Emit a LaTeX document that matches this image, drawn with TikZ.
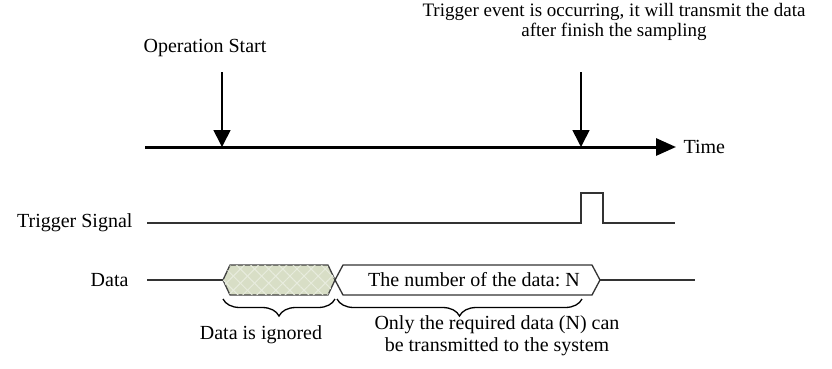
\documentclass[tikz,border=0pt]{standalone}
\usepackage{fontspec}
\setmainfont{Liberation Serif}
\usetikzlibrary{arrows.meta}
\usetikzlibrary{decorations.pathreplacing}
\usetikzlibrary{patterns.meta}
\definecolor{ignoregreen}{RGB}{216,222,198}
\definecolor{ignorehatch}{RGB}{232,236,222}

\begin{document}
\begin{tikzpicture}[x=1pt,y=-1pt,
  every node/.style={font=\fontsize{20}{22}\selectfont},
  wave/.style={line width=1.3pt,black!80},
  cue/.style={line width=1.6pt,-{Triangle[length=17pt,width=17pt]}},
  ubrace/.style={line width=1.3pt,decorate,decoration={brace,amplitude=17pt,mirror}},
  hatched/.style={draw=black!75,line width=1.3pt,fill=ignoregreen,
    postaction={pattern={Lines[angle=45,distance=10pt,line width=1pt]},pattern color=ignorehatch},
    postaction={pattern={Lines[angle=-45,distance=10pt,line width=1pt]},pattern color=ignorehatch}}]
  \useasboundingbox (0,0) rectangle (832,368);
  % time axis
  \coordinate (axisL) at (145,147);
  \coordinate (axisR) at (676,147);
  \draw [line width=3pt,-{Triangle[length=20pt,width=17pt]}] (axisL) -- (axisR);
  \node [anchor=west] (timelabel) at (680,147) {Time};
  % events
  \coordinate (opTop) at (222,72);
  \coordinate (opHit) at (222,147);
  \draw [cue] (opTop) -- (opHit);
  \node [anchor=base] (oplabel) at (205,52) {Operation Start};
  \coordinate (trTop) at (581,72);
  \coordinate (trHit) at (581,147);
  \draw [cue] (trTop) -- (trHit);
  \node [anchor=north,align=center,inner sep=0pt,font=\fontsize{19}{20.5}\selectfont] (triglabel) at (614,3)
    {Trigger event is occurring, it will transmit the data\\after finish the sampling};
  % trigger signal
  \node [anchor=east] (siglabel) at (136,223) {Trigger Signal};
  \coordinate (sigL) at (147,223);
  \coordinate (pulseUp) at (581,193);
  \coordinate (pulseDown) at (603,193);
  \coordinate (sigR) at (675,223);
  \draw [wave] (sigL) -| (pulseUp) -| (pulseDown |- sigR) -- (sigR);
  % data
  \node [anchor=east] (datalabel) at (132,280) {Data};
  \coordinate (dataL) at (147,280);
  \coordinate (ignL) at (223,280);
  \coordinate (ignR) at (335,280);
  \coordinate (keepR) at (600,280);
  \coordinate (dataR) at (695,280);
  \draw [wave] (dataL) -- (ignL);
  \draw [hatched] (ignL) -- (230,265) -- (328,265) -- (ignR) -- (328,295) -- (230,295) -- cycle;
  \draw [wave,fill=white] (ignR) -- (343,265) -- (592,265) -- (keepR) -- (592,295) -- (343,295) -- cycle;
  \draw [wave] (keepR) -- (dataR);
  \node (countlabel) at (474,280) {The number of the data:~N};
  % braces
  \draw [ubrace] (223,299) -- (335,299);
  \draw [ubrace] (337,299) -- (582,299);
  \node (ignlabel) at (261,335) {Data is ignored};
  \node [align=center] (reqlabel) at (497,336)
    {Only the required data (N) can\\be transmitted to the system};
\end{tikzpicture}
\end{document}
